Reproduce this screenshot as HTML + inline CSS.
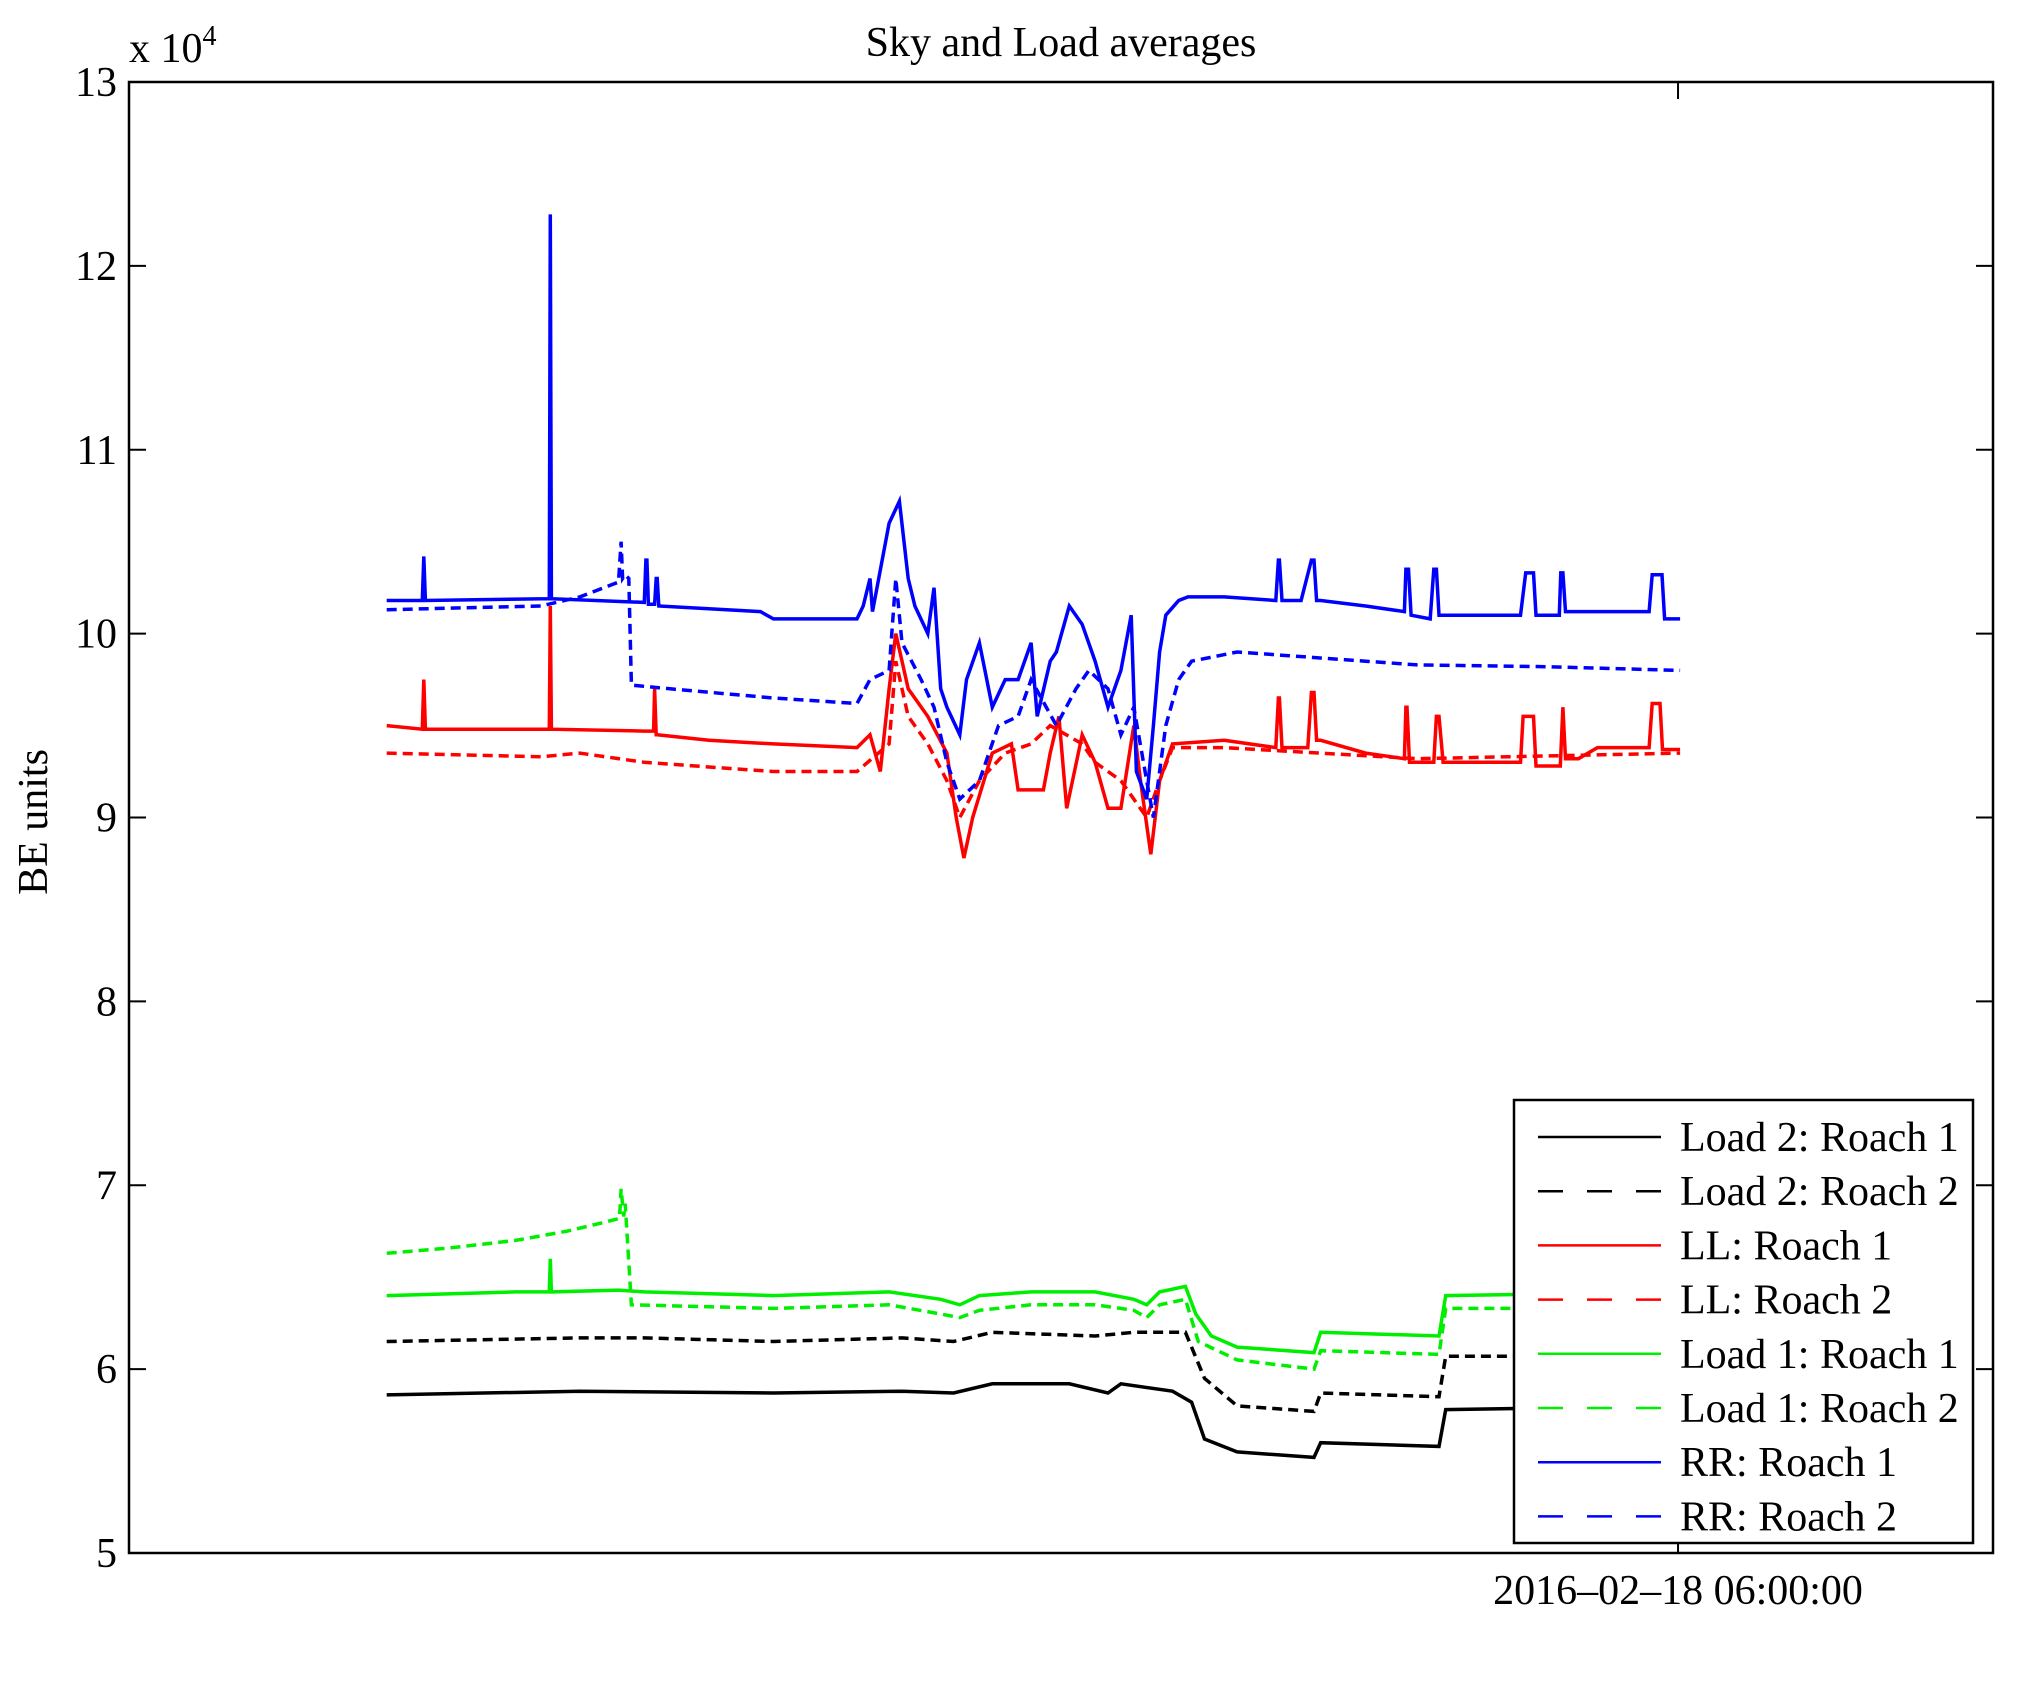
<!DOCTYPE html>
<html><head><meta charset="utf-8"><style>
body{margin:0;background:#fff;}
svg text{font-family:"Liberation Serif",serif;fill:#000;}
</style></head><body>
<svg id="chart" width="2017" height="1679" xmlns="http://www.w3.org/2000/svg">
<rect x="0" y="0" width="2017" height="1679" fill="#fff"/>
<text x="1061" y="56" font-size="42" text-anchor="middle">Sky and Load averages</text>
<text transform="translate(47,822) rotate(-90)" font-size="42" text-anchor="middle">BE units</text>
<text x="129" y="62" font-size="42">x 10<tspan font-size="28" dy="-17">4</tspan></text>
<g id="plot"></g>
<g id="axes"></g>
<g id="legend"></g>
</svg>
<script>
const yTicks=[5,6,7,8,9,10,11,12,13];
const xTickHours=[30];
const xTickLabels=["2016\u201302\u201318 06:00:00"];
const names=["Load 2: Roach 1","Load 2: Roach 2","LL: Roach 1","LL: Roach 2","Load 1: Roach 1","Load 1: Roach 2","RR: Roach 1","RR: Roach 2"];
const colors=["#000","#000","#ff0000","#ff0000","#00ee00","#00ee00","#0000ff","#0000ff"];
const dashed=[false,true,false,true,false,true,false,true];

const load2r1T=[4.99,8.73,12.48,14.97,15.97,16.72,18.21,18.96,19.21,20.21,20.58,20.83,21.46,22.95,23.08,25.37,25.5,30.04];
const load2r1V=[5.86,5.88,5.87,5.88,5.87,5.92,5.92,5.87,5.92,5.88,5.82,5.62,5.55,5.52,5.6,5.58,5.78,5.8];
const load2r2T=[4.99,8.73,9.98,12.48,14.97,15.97,16.72,18.71,19.46,20.46,20.83,21.46,22.95,23.08,25.37,25.5,30.04];
const load2r2V=[6.15,6.17,6.17,6.15,6.17,6.15,6.2,6.18,6.2,6.2,5.95,5.8,5.77,5.87,5.85,6.07,6.07];
const ll1T=[4.99,5.68,5.71,5.74,5.99,8.14,8.16,8.18,9.98,10.16,10.18,10.21,10.23,11.23,12.48,14.1,14.35,14.55,14.72,14.85,15.09,15.47,15.84,16.02,16.17,16.34,16.72,17.09,17.22,17.71,17.84,18.01,18.16,18.46,18.71,18.96,19.21,19.46,19.59,19.79,19.96,20.21,21.21,22.21,22.26,22.28,22.33,22.46,22.83,22.9,22.95,23.0,23.08,23.95,24.7,24.73,24.75,24.8,24.95,25.27,25.32,25.37,25.45,26.95,27.0,27.2,27.25,27.45,27.72,27.77,27.82,28.07,28.44,29.44,29.5,29.65,29.7,29.94,30.04];
const ll1V=[9.5,9.48,9.75,9.48,9.48,9.48,10.15,9.48,9.47,9.47,9.7,9.45,9.45,9.42,9.4,9.38,9.45,9.25,9.7,10.0,9.7,9.55,9.35,9.0,8.78,9.0,9.35,9.4,9.15,9.15,9.35,9.55,9.05,9.45,9.3,9.05,9.05,9.5,9.2,8.8,9.2,9.4,9.42,9.38,9.65,9.65,9.38,9.38,9.38,9.68,9.68,9.42,9.42,9.35,9.32,9.6,9.6,9.3,9.3,9.3,9.55,9.55,9.3,9.3,9.55,9.55,9.28,9.28,9.28,9.6,9.32,9.32,9.38,9.38,9.62,9.62,9.37,9.37,9.37];
const ll2T=[4.99,7.98,8.73,9.98,11.48,12.48,14.1,14.72,14.85,15.09,15.47,15.84,16.09,16.47,16.97,17.47,17.84,18.46,18.71,19.21,19.71,19.96,20.21,21.21,24.95,30.04];
const ll2V=[9.35,9.33,9.35,9.3,9.27,9.25,9.25,9.4,9.85,9.55,9.4,9.2,9.0,9.2,9.35,9.4,9.5,9.4,9.3,9.2,9.0,9.2,9.38,9.38,9.32,9.35];
const load1r1T=[4.99,7.49,8.14,8.16,8.18,9.48,9.98,12.48,14.72,15.72,16.09,16.47,17.47,18.71,19.46,19.71,19.96,20.46,20.66,20.96,21.46,22.95,23.08,25.37,25.5,30.04];
const load1r1V=[6.4,6.42,6.42,6.6,6.42,6.43,6.42,6.4,6.42,6.38,6.35,6.4,6.42,6.42,6.38,6.35,6.42,6.45,6.3,6.18,6.12,6.09,6.2,6.18,6.4,6.42];
const load1r2T=[4.99,6.24,7.49,8.48,9.23,9.5,9.53,9.58,9.61,9.73,12.48,14.72,15.72,16.09,16.47,17.47,18.71,19.46,19.71,19.96,20.46,20.71,21.46,22.95,23.08,25.37,25.5,30.04];
const load1r2V=[6.63,6.66,6.7,6.75,6.8,6.82,6.98,6.83,6.9,6.35,6.33,6.35,6.3,6.28,6.32,6.35,6.35,6.32,6.28,6.35,6.38,6.15,6.05,6.0,6.1,6.08,6.33,6.33];
const rr1T=[4.99,5.68,5.71,5.74,8.14,8.16,8.18,9.98,10.01,10.03,10.06,10.18,10.21,10.23,10.26,12.23,12.48,14.1,14.22,14.35,14.4,14.72,14.92,15.09,15.22,15.47,15.59,15.72,15.84,16.09,16.22,16.47,16.72,16.97,17.22,17.47,17.59,17.84,17.96,18.21,18.46,18.71,18.96,19.21,19.41,19.51,19.71,19.84,19.96,20.08,20.33,20.51,21.21,22.21,22.26,22.28,22.33,22.7,22.9,22.95,23.0,23.08,23.95,24.7,24.73,24.78,24.83,25.2,25.27,25.32,25.37,25.45,26.95,27.05,27.2,27.25,27.7,27.73,27.77,27.82,29.44,29.5,29.69,29.74,29.82,30.04];
const rr1V=[10.18,10.18,10.42,10.18,10.19,12.28,10.19,10.17,10.4,10.4,10.16,10.16,10.3,10.3,10.15,10.12,10.08,10.08,10.15,10.3,10.12,10.6,10.72,10.3,10.15,10.0,10.25,9.7,9.6,9.45,9.75,9.95,9.6,9.75,9.75,9.95,9.55,9.85,9.9,10.15,10.05,9.85,9.6,9.8,10.1,9.25,9.1,9.5,9.9,10.1,10.18,10.2,10.2,10.18,10.4,10.4,10.18,10.18,10.4,10.4,10.18,10.18,10.15,10.12,10.35,10.35,10.1,10.08,10.35,10.35,10.1,10.1,10.1,10.33,10.33,10.1,10.1,10.33,10.33,10.12,10.12,10.32,10.32,10.08,10.08,10.08];
const rr2T=[4.99,7.98,8.73,9.48,9.53,9.56,9.61,9.68,9.73,10.48,12.48,14.1,14.35,14.72,14.85,14.97,15.34,15.59,15.84,16.09,16.47,16.84,17.22,17.47,17.96,18.34,18.59,18.96,19.21,19.46,19.71,19.84,20.08,20.33,20.58,21.46,22.46,23.95,24.95,27.45,30.04];
const rr2V=[10.13,10.15,10.2,10.28,10.5,10.3,10.32,10.3,9.72,9.7,9.65,9.62,9.75,9.8,10.3,9.95,9.75,9.6,9.3,9.1,9.2,9.5,9.55,9.75,9.5,9.7,9.8,9.7,9.45,9.6,9.2,9.0,9.5,9.75,9.85,9.9,9.88,9.85,9.83,9.82,9.8];

const seriesT=[load2r1T,load2r2T,ll1T,ll2T,load1r1T,load1r2T,rr1T,rr2T];
const seriesV=[load2r1V,load2r2V,ll1V,ll2V,load1r1V,load1r2V,rr1V,rr2V];

const L=129,R=1993,T=82,B=1553,XMAX=36.1,YMIN=5,YMAX=13;
function xs(h){return L+h/XMAX*(R-L);}
function ys(v){return B-(v-YMIN)/(YMAX-YMIN)*(B-T);}
const NS="http://www.w3.org/2000/svg";
function mk(tag,attrs,parent){const e=document.createElementNS(NS,tag);for(const k in attrs)e.setAttribute(k,attrs[k]);parent.appendChild(e);return e;}
const plot=document.getElementById('plot'),axes=document.getElementById('axes'),leg=document.getElementById('legend');
for(let s=0;s<seriesT.length;s++){
  let d='';
  for(let i=0;i<seriesT[s].length;i++){d+=(i?'L':'M')+xs(seriesT[s][i]).toFixed(1)+','+ys(seriesV[s][i]).toFixed(1);}
  const p=mk('path',{d:d,fill:'none',stroke:colors[s],'stroke-width':3.5,'stroke-linejoin':'miter'},plot);
  if(dashed[s])p.setAttribute('stroke-dasharray','10,6');
  
  
}
const box=mk('rect',{x:L,y:T,width:R-L,height:B-T,fill:'none',stroke:'#000','stroke-width':2.5},axes);


yTicks.forEach(v=>{
  const y=ys(v);
  const t1=mk('line',{x1:L,x2:L+17,y1:y,y2:y,stroke:'#000','stroke-width':2},axes);
  
  
  const t2=mk('line',{x1:R-17,x2:R,y1:y,y2:y,stroke:'#000','stroke-width':2},axes);
  
  
  const tx=mk('text',{x:117,y:y+14,'font-size':42,'text-anchor':'end'},axes);
  tx.textContent=String(v);
  
  
});
xTickHours.forEach((h,i)=>{
  const x=xs(h);
  const a=mk('line',{x1:x,x2:x,y1:B,y2:B-17,stroke:'#000','stroke-width':2},axes);
  
  
  const b=mk('line',{x1:x,x2:x,y1:T,y2:T+17,stroke:'#000','stroke-width':2},axes);
  
  
  const tx=mk('text',{x:x,y:1604,'font-size':42,'text-anchor':'middle'},axes);
  tx.textContent=xTickLabels[i];
  
  
});
const lb=mk('rect',{x:1514,y:1100,width:459,height:443,fill:'#fff',stroke:'#000','stroke-width':2.5},leg);


names.forEach((n,i)=>{
  const y=1137+i*54.2;
  const ln=mk('line',{x1:1538,x2:1661,y1:y,y2:y,stroke:colors[i],'stroke-width':2.5},leg);
  if(dashed[i])ln.setAttribute('stroke-dasharray','25,24');
  
  
  const tx=mk('text',{x:1680,y:y+14,'font-size':42},leg);
  tx.textContent=n;
  
  
});
</script>
</body></html>
